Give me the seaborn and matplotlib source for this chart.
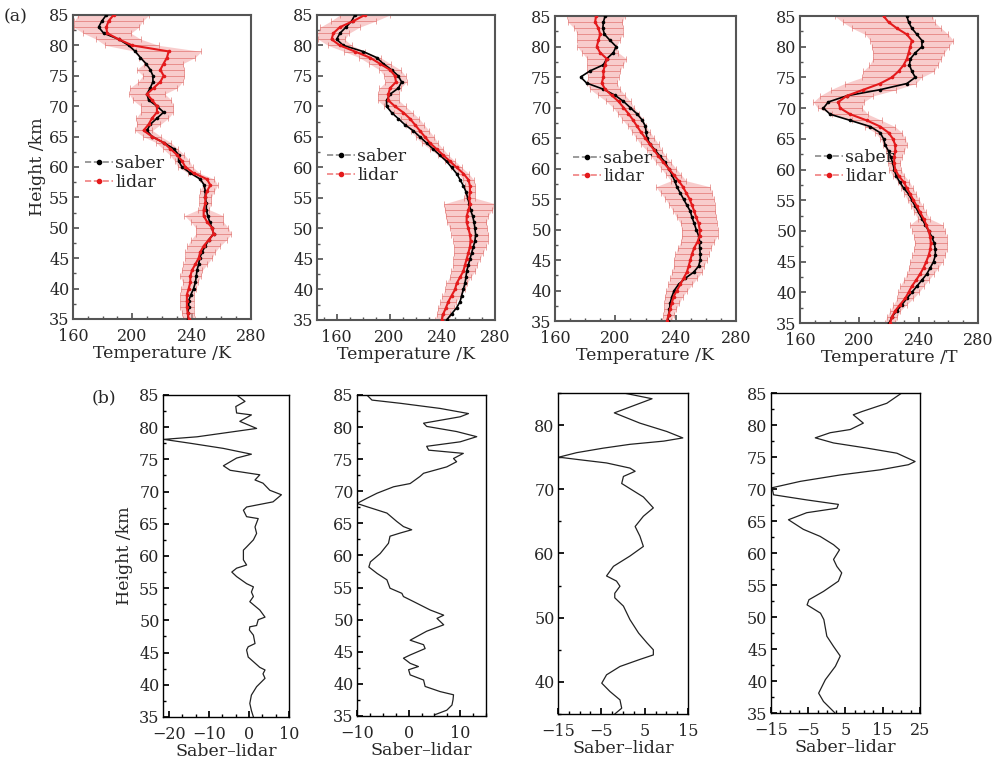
import numpy as np
import pandas as pd
import matplotlib
matplotlib.use('Agg')
import matplotlib.pyplot as plt
from matplotlib.lines import Line2D
from matplotlib.ticker import MultipleLocator, AutoMinorLocator
import seaborn as sns

# ---------------- data ----------------
# height grid of the upper panels, 85 km down to 35 km
height_km = np.arange(85, 34, -1)

a1_saber = [182.5, 179.5, 177.3, 180.7, 190.8, 197.5, 202.0, 205.4, 209.2, 212.1,
            213.9, 213.9, 212.1, 209.9, 211.0, 216.6, 221.1, 216.6, 212.1, 209.9,
            213.3, 221.1, 227.9, 231.2, 231.2, 233.5, 239.1, 245.8, 248.5, 249.2,
            249.2, 249.9, 249.9, 250.8, 252.1, 253.7, 254.8, 251.5, 249.2, 247.0,
            245.4, 244.7, 243.6, 243.1, 242.5, 241.3, 239.5, 238.0, 238.0, 237.5, 237.5]
a1_lidar = [187.4, 184.0, 182.5, 183.0, 190.8, 199.8, 224.5, 223.4, 221.1, 218.9,
            221.1, 218.9, 214.4, 209.9, 213.3, 216.6, 216.6, 213.3, 211.0, 207.6,
            213.3, 221.1, 225.6, 230.1, 233.5, 235.7, 241.3, 250.3, 252.6, 250.3,
            249.2, 249.2, 248.1, 248.1, 250.3, 253.7, 254.8, 251.5, 248.1, 245.8,
            244.7, 242.5, 240.2, 239.1, 239.1, 238.0, 236.8, 236.8, 236.8, 237.3, 238.0]
a1_err = [24, 23, 22, 16, 15, 18, 22, 19, 13, 16,
          14, 15, 16, 12, 13, 11, 11, 11, 8, 6,
          6, 5, 5, 5, 5, 5, 4, 5, 5, 5,
          4, 4, 3.5, 13, 11, 11, 12, 12, 11, 10,
          9, 8, 7, 7, 5, 5, 4.5, 4.5, 4.5, 4, 4]

a2_saber = [173.8, 171.3, 167.0, 162.4, 159.9, 165.0, 180.1, 190.3, 195.3, 201.6,
            206.7, 209.2, 206.7, 200.4, 197.8, 197.8, 201.6, 206.7, 211.7, 218.1,
            223.1, 228.2, 233.2, 238.3, 243.3, 247.1, 250.9, 253.5, 256.0, 258.0,
            259.3, 260.5, 261.5, 263.1, 264.1, 264.8, 265.3, 264.8, 263.6, 262.3,
            261.0, 259.8, 258.5, 258.0, 257.2, 256.0, 254.7, 253.5, 250.9, 247.1, 243.3]
a2_lidar = [181.4, 172.6, 162.4, 157.4, 156.1, 162.4, 173.8, 185.2, 192.8, 200.4,
            204.2, 204.9, 200.4, 199.1, 199.1, 204.2, 210.5, 215.5, 219.3, 223.1,
            226.9, 230.7, 235.8, 240.8, 245.9, 250.9, 256.0, 259.8, 261.0, 261.0,
            260.5, 261.0, 259.8, 258.5, 258.5, 259.8, 261.0, 261.5, 261.0, 259.8,
            258.5, 257.2, 256.0, 253.5, 250.9, 249.7, 247.1, 244.6, 242.8, 240.8, 239.6]
a2_err = [19, 17, 15, 12, 10, 9, 8, 8, 8, 8,
          8, 8, 8, 8, 8, 8, 7, 7, 7, 7,
          7, 6, 5, 4, 4, 4, 4, 4, 4, 4,
          4, 20, 18, 16, 15, 14, 14, 13, 12, 11,
          10, 9, 9, 8, 8, 7.5, 7, 6, 6, 5, 5]

a3_saber = [193.2, 192.1, 191.7, 192.8, 196.5, 200.5, 198.7, 194.3, 192.1, 183.2,
            177.0, 181.0, 192.1, 199.8, 205.4, 209.8, 214.2, 217.6, 219.8, 220.4,
            220.9, 223.1, 226.4, 229.7, 233.1, 235.3, 237.5, 239.3, 240.8, 243.0,
            245.2, 247.4, 249.7, 250.8, 252.3, 253.6, 255.2, 255.9, 255.9, 256.3,
            256.3, 255.2, 251.9, 246.3, 241.9, 239.0, 237.5, 236.4, 235.9, 235.3, 234.8]
a3_lidar = [187.2, 186.6, 188.8, 189.9, 188.8, 187.7, 189.9, 194.3, 193.2, 192.1,
            192.1, 191.0, 193.2, 197.6, 202.1, 205.4, 208.7, 211.6, 214.2, 216.9,
            219.8, 222.7, 225.8, 228.6, 231.9, 235.3, 238.6, 241.9, 244.8, 247.0,
            249.2, 250.8, 252.3, 253.6, 255.2, 255.9, 255.9, 254.5, 252.3, 250.8,
            249.7, 248.6, 247.4, 245.2, 243.0, 240.8, 238.6, 237.5, 236.4, 235.3, 234.2]
a3_err = [19, 18, 16, 15, 14, 13, 12, 13, 12, 11,
          10, 10, 10, 9, 8, 7, 7, 7, 6, 6,
          6, 6, 5, 5, 5, 5, 5, 5, 18, 17,
          16, 15, 14, 13, 12, 12, 12, 11, 11, 11,
          11, 10, 10, 9, 8, 7, 6, 5, 4, 3.5, 3]

a4_saber = [232.0, 233.2, 235.4, 238.8, 242.2, 242.2, 237.7, 234.3, 233.8, 235.4,
            237.7, 232.0, 214.0, 191.5, 179.1, 175.8, 180.3, 193.8, 207.3, 214.0,
            216.3, 217.4, 219.7, 221.2, 222.6, 223.5, 224.8, 227.1, 229.8, 233.2,
            235.4, 237.7, 239.9, 242.2, 244.4, 246.7, 248.9, 250.5, 251.2, 251.2,
            250.0, 247.8, 245.5, 242.2, 238.8, 235.4, 232.0, 228.7, 225.3, 221.9, 220.3]
a4_lidar = [216.3, 219.7, 225.3, 232.0, 235.4, 234.3, 233.2, 232.0, 229.8, 226.4,
            221.9, 214.0, 202.8, 191.5, 185.9, 187.0, 193.8, 205.0, 214.0, 219.7,
            222.6, 224.2, 224.2, 223.5, 223.5, 224.2, 226.4, 229.8, 232.0, 234.3,
            236.5, 238.8, 241.0, 243.3, 245.1, 246.7, 247.8, 248.2, 247.8, 246.7,
            245.1, 243.3, 241.0, 238.3, 235.4, 233.2, 230.9, 227.5, 224.2, 221.9, 220.8]
a4_err = [33, 31, 30, 28, 28, 26, 24, 23, 23, 24,
          20, 24, 22, 18, 17, 15, 12, 10, 10, 9,
          8.5, 8, 6, 5, 4, 4, 4, 4, 4, 4,
          4, 4, 4, 4, 11, 11, 11, 11, 11, 11,
          11, 10, 9, 8.5, 8, 7, 5.5, 4.5, 3.5, 3.5, 3.5]

# saber - lidar difference profiles (lower panels)
b1_height = [85.0, 84.0, 83.2, 82.2, 81.9, 80.9, 79.8, 78.5, 78.1, 77.5, 76.7, 75.8,
             75.2, 74.0, 73.3, 72.6, 71.8, 71.3, 70.2, 69.5, 68.4, 67.6, 67.1, 66.1,
             65.8, 64.5, 63.5, 62.5, 61.4, 60.9, 59.4, 58.6, 58.1, 57.5, 56.8, 55.7,
             55.2, 54.4, 53.7, 52.9, 51.6, 50.5, 50.1, 49.2, 49.0, 48.5, 47.7, 46.4,
             45.9, 45.4, 44.3, 42.7, 42.3, 41.7, 41.0, 39.7, 38.4, 37.1, 36.0, 35.0]
b1_diff = [-3.1, -1.0, -3.3, -3.1, 0.6, -2.3, 1.9, -13.0, -21.3, -14.7, -6.4, 0.6,
           -3.1, -6.4, -4.7, 2.7, 1.5, 3.5, 5.2, 8.1, 6.0, -0.6, -1.4, -0.6,
           2.3, 1.5, 1.9, 1.1, -0.6, -1.4, -1.4, -0.6, -3.1, -4.3, -3.1, -0.6,
           1.1, 0.6, 1.1, 0.2, 2.7, 4.0, 2.3, 1.9, 0.2, 0.1, 1.1, 1.5,
           -0.2, -0.6, -0.2, 2.7, 4.0, 3.5, 4.0, 1.9, 0.6, 0.2, 0.6, 1.1]

b2_height = [85.0, 84.2, 83.7, 82.9, 82.1, 81.6, 80.6, 80.1, 79.3, 78.5, 77.7, 77.0,
             76.4, 75.9, 75.1, 74.6, 73.8, 72.8, 72.3, 71.2, 70.7, 69.7, 68.9, 68.1,
             67.6, 66.6, 65.3, 64.5, 64.0, 63.5, 63.0, 61.9, 60.3, 59.0, 58.2, 57.2,
             56.2, 54.9, 54.1, 53.6, 52.8, 51.5, 50.7, 50.2, 49.2, 48.2, 46.8, 46.1,
             45.5, 44.5, 44.0, 43.2, 42.7, 42.2, 41.4, 40.6, 39.6, 38.8, 38.3, 37.5,
             36.7, 35.9, 35.2]
b2_diff = [-8.1, -7.1, -1.6, 6.1, 11.6, 10.0, 2.9, 3.5, 9.3, 13.2, 10.0, 3.5,
           3.9, 10.6, 8.7, 9.3, 7.4, 2.9, 2.2, 0.3, -2.9, -6.1, -8.1, -10.0,
           -8.1, -4.2, -2.3, -1.0, 0.6, -1.6, -3.6, -3.9, -5.5, -7.4, -7.7, -6.1,
           -4.2, -3.6, -1.3, -1.0, 1.0, 4.2, 6.8, 5.5, 6.8, 3.5, 0.3, 2.9,
           3.2, 0.3, -1.0, 0.3, 1.9, 0.0, 0.3, 2.9, 3.2, 6.1, 8.7, 8.6,
           8.4, 7.4, 5.1]

b3_height = [85.0, 84.1, 81.9, 80.3, 79.0, 78.0, 77.5, 77.0, 76.4, 75.7, 75.0, 74.6,
             74.1, 73.3, 72.8, 72.0, 70.9, 70.1, 68.8, 67.1, 65.8, 64.2, 62.7, 61.1,
             59.6, 58.0, 56.5, 55.7, 54.9, 53.8, 53.1, 51.8, 49.7, 47.6, 46.1, 45.0,
             44.2, 43.5, 42.4, 41.1, 39.8, 38.5, 37.2, 35.9, 35.0]
b3_diff = [0.1, 6.7, -2.0, 3.9, 10.1, 13.8, 9.4, 1.6, -4.6, -10.7, -14.8, -10.0,
           -3.8, 1.6, 2.8, 0.1, -0.3, 1.6, 4.7, 7.0, 4.7, 2.8, 3.9, 4.7,
           1.6, -2.2, -3.8, -1.5, -0.7, -1.9, -1.9, 0.1, 1.6, 3.6, 5.5, 7.0,
           7.0, 3.9, -0.7, -3.8, -4.9, -3.0, -0.7, -0.3, -1.9]

b4_height = [85.0, 83.4, 82.1, 81.6, 80.3, 79.3, 78.8, 78.0, 77.2, 76.4, 75.6, 74.3,
             73.8, 73.0, 72.2, 71.2, 70.2, 69.1, 68.3, 67.6, 67.0, 66.3, 65.2, 63.7,
             62.6, 61.3, 60.5, 59.0, 57.9, 56.9, 55.6, 54.0, 52.7, 51.9, 50.6, 49.6,
             47.0, 45.4, 43.9, 42.3, 40.2, 38.1, 36.8, 35.0]
b4_diff = [20.1, 16.1, 9.4, 7.1, 9.8, 6.3, 0.9, -3.1, 1.8, 10.7, 18.8, 23.7,
           21.9, 14.3, 3.6, -7.1, -14.7, -14.3, -5.4, 3.1, 2.7, -5.4, -10.3, -6.3,
           -1.8, 1.8, 3.4, 1.8, 2.7, 4.0, 3.1, -0.9, -4.8, -5.3, -1.7, -0.8,
           0.0, 1.8, 3.6, 2.3, -0.4, -2.2, -0.9, 2.2]

temp_ticks = [160, 200, 240, 280]

# ---------------- style ----------------
sns.set_theme(style='ticks')
plt.rcParams['font.family'] = ['DejaVu Serif']
plt.rcParams['axes.unicode_minus'] = True

fig = plt.figure(figsize=(9.98, 7.62), dpi=100, facecolor='white')

top_pos = [[0.0731, 0.5814, 0.1784, 0.3990],
           [0.3176, 0.5801, 0.1784, 0.4003],
           [0.5561, 0.5787, 0.1814, 0.4003],
           [0.8016, 0.5761, 0.1784, 0.4029]]
top_data = [(a1_saber, a1_lidar, a1_err, (160, 280), 'Temperature /K', (0.067, 0.48)),
            (a2_saber, a2_lidar, a2_err, (145, 280), 'Temperature /K', (0.056, 0.505)),
            (a3_saber, a3_lidar, a3_err, (160, 280), 'Temperature /K', (0.10, 0.503)),
            (a4_saber, a4_lidar, a4_err, (160, 280), 'Temperature /T', (0.084, 0.508))]

legend_handles = [
    Line2D([], [], color='#8a8a8a', ls='--', lw=1.2, marker='o', ms=3,
           mfc='black', mec='black'),
    Line2D([], [], color='#f08080', ls='--', lw=1.2, marker='o', ms=3,
           mfc='#e41a1c', mec='#e41a1c'),
]

for i, (pos, (saber, lidar, err, xlim, xlabel, leg)) in enumerate(zip(top_pos, top_data)):
    ax = fig.add_axes(pos)
    df = pd.DataFrame({'h': height_km, 'saber': saber, 'lidar': lidar, 'err': err})
    lo = df['lidar'] - df['err']
    hi = df['lidar'] + df['err']
    ax.fill_betweenx(df['h'], lo, hi, color='#f4a3a3', alpha=0.55, lw=0, zorder=1)
    ax.errorbar(df['lidar'], df['h'], xerr=df['err'], fmt='none', ecolor='#d9534f',
                elinewidth=0.6, capsize=2, capthick=0.6, alpha=0.6, zorder=2)
    sns.lineplot(data=df, x='saber', y='h', orient='y', estimator=None, ax=ax,
                 color='black', lw=1.2, marker='o', markersize=2.6,
                 markeredgewidth=0, zorder=3)
    sns.lineplot(data=df, x='lidar', y='h', orient='y', estimator=None, ax=ax,
                 color='#e41a1c', lw=1.5, marker='o', markersize=2.6,
                 markeredgewidth=0, zorder=4)
    ax.set_xlim(*xlim)
    ax.set_ylim(35, 85)
    ax.set_xticks(temp_ticks)
    ax.xaxis.set_minor_locator(MultipleLocator(10))
    ax.yaxis.set_major_locator(MultipleLocator(5))
    ax.yaxis.set_minor_locator(MultipleLocator(2.5))
    ax.set_xlabel(xlabel, fontsize=12.5, labelpad=0)
    ax.set_ylabel('Height /km' if i == 0 else '', fontsize=12.5, labelpad=2)
    ax.tick_params(which='both', direction='in', top=False, right=False,
                   labelsize=11.5, color='#555555')
    ax.tick_params(axis='x', which='major', pad=6.5)
    ax.tick_params(axis='y', which='major', pad=2.5)
    ax.tick_params(which='major', length=4)
    ax.tick_params(which='minor', length=2.5)
    for s in ax.spines.values():
        s.set_color('#555555')
        s.set_linewidth(1.5)
    ax.legend(legend_handles, ['saber', 'lidar'], loc='center left',
              bbox_to_anchor=leg, frameon=False, fontsize=12.5, handlelength=1.6,
              handletextpad=0.15, labelspacing=0.1, borderpad=0, borderaxespad=0)

bot_pos = [[0.1633, 0.0591, 0.1263, 0.4226],
           [0.3577, 0.0604, 0.1293, 0.4213],
           [0.5591, 0.0630, 0.1303, 0.4213],
           [0.7725, 0.0643, 0.1493, 0.4199]]
bot_data = [(b1_height, b1_diff, (-21.5, 10), [-20, -10, 0, 10], 3, 5),
            (b2_height, b2_diff, (-10, 15), [-10, 0, 10], 4, 5),
            (b3_height, b3_diff, (-15, 15), [-15, -5, 5, 15], 4, 10),
            (b4_height, b4_diff, (-15, 25), [-15, -5, 5, 15, 25], 4, 5)]

for i, (pos, (h, d, xlim, xt, nminor, ystep)) in enumerate(zip(bot_pos, bot_data)):
    ax = fig.add_axes(pos)
    df = pd.DataFrame({'h': h, 'diff': d})
    sns.lineplot(data=df, x='diff', y='h', orient='y', estimator=None, ax=ax,
                 color='#222222', lw=0.9)
    ax.set_xlim(*xlim)
    ax.set_ylim(35, 85)
    ax.set_xticks(xt)
    ax.xaxis.set_minor_locator(AutoMinorLocator(nminor))
    ax.yaxis.set_major_locator(MultipleLocator(ystep))
    ax.yaxis.set_minor_locator(MultipleLocator(ystep / 2))
    ax.set_xlabel('Saber\u2013lidar', fontsize=12.5, labelpad=0)
    ax.set_ylabel('Height /km' if i == 0 else '', fontsize=12.5, labelpad=4)
    ax.tick_params(which='both', direction='in', top=False, right=False,
                   labelsize=11.5, color='black')
    ax.tick_params(axis='x', which='major', pad=6.5)
    ax.tick_params(axis='y', which='major', pad=2.5)
    ax.tick_params(which='major', length=4)
    ax.tick_params(which='minor', length=2.5)
    for s in ax.spines.values():
        s.set_color('black')
        s.set_linewidth(1.0)

fig.text(0.004, 0.978, '(a)', fontsize=12.5, va='center', ha='left')
fig.text(0.092, 0.478, '(b)', fontsize=12.5, va='center', ha='left')

fig.savefig('out.png', dpi=100, facecolor='white')
